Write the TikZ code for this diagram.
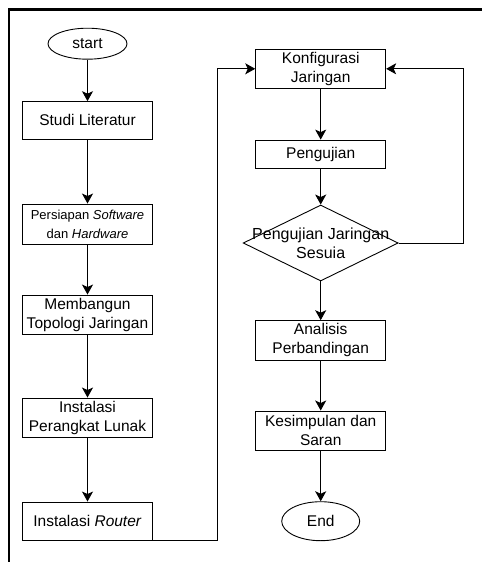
\documentclass[tikz,border=0pt]{standalone}
\usepackage{fontspec}
\setmainfont{Liberation Sans}
\usetikzlibrary{shapes.geometric,arrows.meta}
\begin{document}
\begin{tikzpicture}[x=1pt,y=-1pt,
  every node/.style={font=\fontsize{15.5}{19}\selectfont, align=center, inner sep=0pt},
  procbox/.style={draw=black, line width=0.9pt, rectangle, minimum width=130pt},
  term/.style={draw=black, line width=0.9pt, ellipse},
  decision/.style={draw=black, line width=0.9pt, diamond, minimum width=155pt, minimum height=76pt},
  flow/.style={draw=black, line width=1pt, -{Stealth[length=10pt,width=11pt,inset=2.5pt]}},
  frameline/.style={draw=black, line width=2.4pt}
]
\useasboundingbox (0,0) rectangle (482,562);
% frame
\draw[frameline] (8.7,562) -- (8.7,9.3) -- (482,9.3);
% left column
\node[term, minimum width=79pt, minimum height=31pt] (start) at (87.5,43.7) {start};
\node[procbox, minimum height=37.3pt] (studi) at (87.5,120.3) {Studi Literatur};
\node[procbox, minimum height=40pt, font=\fontsize{13}{19}\selectfont] (persiapan) at (87.5,224) {Persiapan \textit{Software}\\dan \textit{Hardware}};
\node[procbox, minimum height=39pt] (membangun) at (87.5,314.5) {Membangun\\Topologi Jaringan};
\node[procbox, minimum height=39pt] (instalasi) at (87.5,417.5) {Instalasi\\Perangkat Lunak};
\node[procbox, minimum height=38pt] (router) at (87.5,521) {Instalasi \textit{Router}};
% right column
\node[procbox, minimum height=39pt] (konfig) at (320.7,68.8) {Konfigurasi\\Jaringan};
\node[procbox, minimum height=28.3pt] (uji) at (320.7,154.2) {Pengujian};
\node[decision, label={[font=\fontsize{16}{19}\selectfont, align=center]center:Pengujian Jaringan\\Sesuia}] (dec) at (320.7,243) {};
\node[procbox, minimum height=39.3pt] (analisis) at (320.7,340.3) {Analisis\\Perbandingan};
\node[procbox, minimum height=39.7pt] (kesimpulan) at (320.7,430.8) {Kesimpulan dan\\Saran};
\node[term, minimum width=78pt, minimum height=39pt] (end) at (320.7,521.2) {End};
% connectors
\draw[flow] (start) -- (studi);
\draw[flow] (studi) -- (persiapan);
\draw[flow] (persiapan) -- (membangun);
\draw[flow] (membangun) -- (instalasi);
\draw[flow] (instalasi) -- (router);
\draw[flow] (router.south east) -- ++(64.7,0) |- (konfig.west);
\draw[flow] (konfig) -- (uji);
\draw[flow] (uji) -- (dec.north);
\draw[flow] (dec.south) -- (analisis);
\draw[flow] (analisis) -- (kesimpulan);
\draw[flow] (kesimpulan) -- (end);
\draw[flow] (dec.east) -- ++(64.6,0) |- (konfig.east);
\end{tikzpicture}
\end{document}
